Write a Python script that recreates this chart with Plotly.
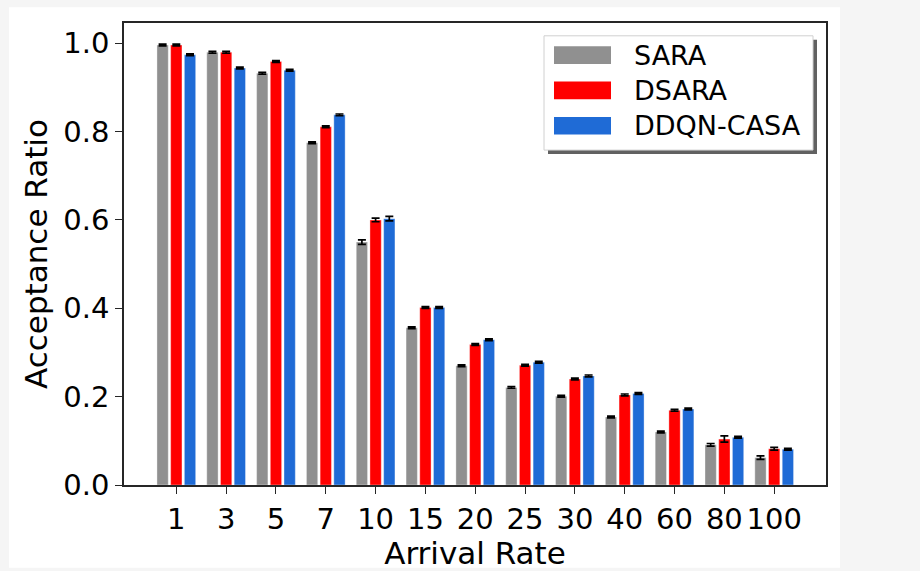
import plotly.graph_objects as go

# ---- data ----
categories = ["1", "3", "5", "7", "10", "15", "20", "25", "30", "40", "60", "80", "100"]
series_names = ["SARA", "DSARA", "DDQN-CASA"]
sara = [0.996, 0.980, 0.932, 0.775, 0.550, 0.356, 0.270, 0.221, 0.201, 0.154, 0.120, 0.091, 0.062]
dsara = [0.996, 0.980, 0.959, 0.811, 0.600, 0.402, 0.318, 0.271, 0.240, 0.204, 0.169, 0.104, 0.082]
ddqn = [0.974, 0.944, 0.939, 0.838, 0.603, 0.402, 0.329, 0.278, 0.247, 0.207, 0.172, 0.108, 0.081]
sara_err = [0.002, 0.002, 0.002, 0.002, 0.005, 0.002, 0.002, 0.002, 0.002, 0.002, 0.002, 0.003, 0.004]
dsara_err = [0.002, 0.002, 0.002, 0.002, 0.004, 0.002, 0.002, 0.002, 0.002, 0.002, 0.002, 0.007, 0.003]
ddqn_err = [0.002, 0.002, 0.002, 0.002, 0.005, 0.002, 0.002, 0.002, 0.002, 0.002, 0.002, 0.002, 0.002]
colors = ["#909090", "#ff0000", "#1f6bd6"]

W, H = 920, 571
L, R, T, B = 124, 94, 23, 79
PW, PH = W - L - R, H - T - B

def px(x):
    return (x - L) / PW

def py(y):
    return (H - B - y) / PH

FONT = "DejaVu Sans, Noto Sans, sans-serif"

fig = go.Figure()
for name, vals, errs, col in zip(series_names, [sara, dsara, ddqn], [sara_err, dsara_err, ddqn_err], colors):
    fig.add_trace(go.Bar(
        x=categories, y=vals, name=name, marker_color=col,
        marker_line=dict(color="rgba(255,255,255,0.6)", width=0.6),
        error_y=dict(type="data", array=errs, visible=True, color="black", thickness=1.7, width=4),
        showlegend=False,
    ))

shapes = []
annotations = []
# screenshot-like background panel
shapes.append(dict(type="rect", xref="paper", yref="paper", x0=px(9), x1=px(840), y0=py(7), y1=py(H + 5),
                   fillcolor="white", line=dict(width=0), layer="below"))
# legend shadow + box
shapes.append(dict(type="rect", xref="paper", yref="paper", x0=px(548), x1=px(817), y0=py(40), y1=py(156),
                   fillcolor="rgba(80,80,80,0.9)", line=dict(width=0), layer="above"))
shapes.append(dict(type="rect", xref="paper", yref="paper", x0=px(544), x1=px(813), y0=py(36), y1=py(152),
                   fillcolor="white", line=dict(color="#d0d0d0", width=1), layer="above"))
row_centers = [55.5, 91.5, 127.3]
for name, col, cy in zip(series_names, colors, row_centers):
    shapes.append(dict(type="rect", xref="paper", yref="paper", x0=px(554), x1=px(611),
                       y0=py(cy - 9), y1=py(cy + 9), fillcolor=col, line=dict(width=0), layer="above"))
    annotations.append(dict(text=name, xref="paper", yref="paper", x=px(632), y=py(cy),
                            xanchor="left", yanchor="middle", showarrow=False,
                            font=dict(family=FONT, size=27, color="black")))

fig.update_layout(
    width=W, height=H,
    margin=dict(l=L, r=R, t=T, b=B, pad=0),
    paper_bgcolor="#f5f5f5", plot_bgcolor="white",
    barmode="group", bargap=0.175, bargroupgap=0.175,
    font=dict(family=FONT, size=29, color="black"),
    shapes=shapes, annotations=annotations,
    xaxis=dict(
        type="category", range=[-1.05, 13.04],
        showline=True, linecolor="#262626", linewidth=1.6, mirror=True,
        ticks="outside", ticklen=7, tickwidth=1.4, tickcolor="#262626",
        showgrid=False, zeroline=False,
        tickfont=dict(family=FONT, size=29),
        title=dict(text="Arrival Rate", font=dict(family=FONT, size=31), standoff=2),
    ),
    yaxis=dict(
        range=[0, 1.046], dtick=0.2, tickformat=".1f",
        showline=True, linecolor="#262626", linewidth=1.6, mirror=True,
        ticks="outside", ticklen=7, tickwidth=1.4, tickcolor="#262626",
        showgrid=False, zeroline=False,
        tickfont=dict(family=FONT, size=29),
        title=dict(text="Acceptance Ratio", font=dict(family=FONT, size=31), standoff=6),
    ),
)

fig.write_html("out.html")
